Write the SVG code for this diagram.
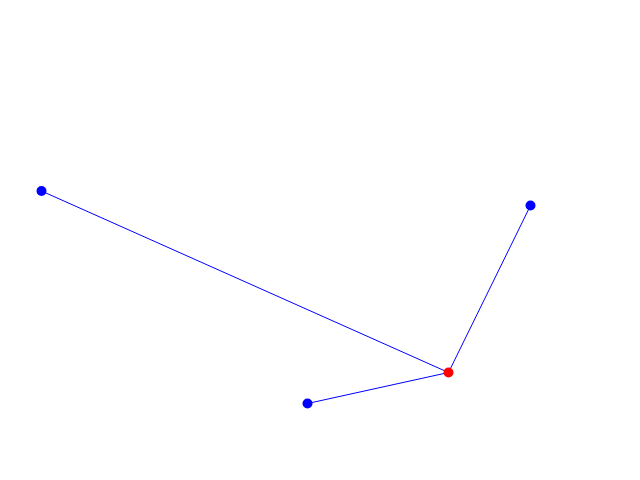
<svg xmlns="http://www.w3.org/2000/svg" width="640" height="480" viewBox="0 0 640 480">
<style>
.edge{stroke:#0000ff;stroke-width:1;fill:none}
.n{fill:#0000ff}
.c{fill:#ff0000}
</style>
<rect width="640" height="480" fill="#ffffff"/>
<g id="connectors">
<line class="edge" x1="41.5" y1="191" x2="448.5" y2="372.5"/>
<line class="edge" x1="530.5" y1="205.5" x2="448.5" y2="372.5"/>
<line class="edge" x1="307.5" y1="403.5" x2="448.5" y2="372.5"/>
</g>
<g id="node1"><circle class="n" cx="41.5" cy="191" r="5"/></g>
<g id="node2"><circle class="n" cx="530.5" cy="205.5" r="5"/></g>
<g id="node3"><circle class="n" cx="307.5" cy="403.5" r="5"/></g>
<g id="center"><circle class="c" cx="448.5" cy="372.5" r="5"/></g>
</svg>
